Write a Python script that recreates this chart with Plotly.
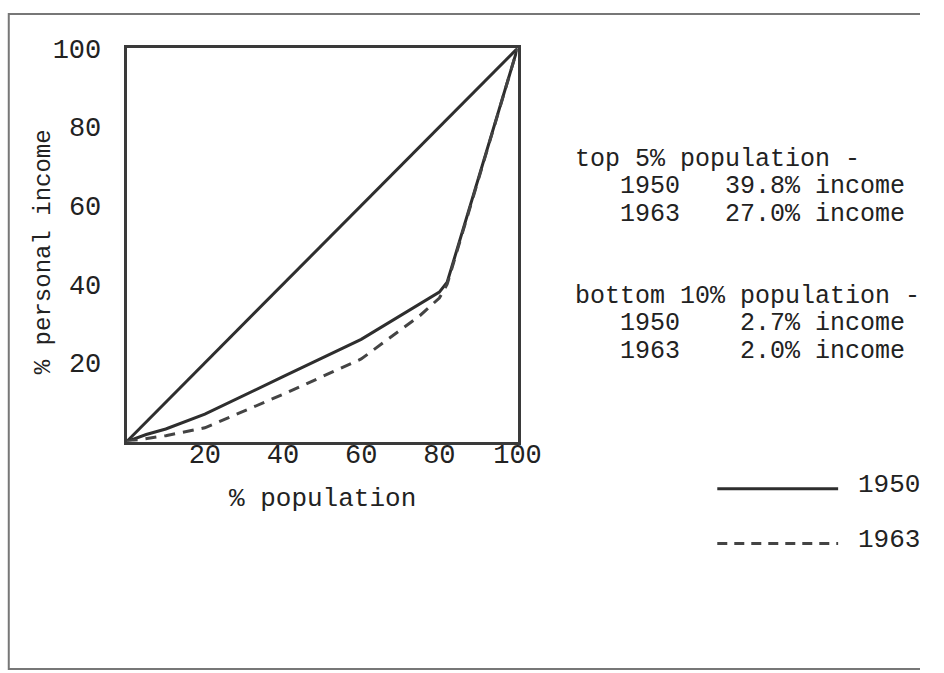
import plotly.graph_objects as go

# ---- data ----
equal_pop = [0, 100]
equal_inc = [0, 100]

pop_1950 = [0, 5, 10, 20, 40, 60, 80, 82, 100]
inc_1950 = [0, 1.8, 3.2, 7, 16.5, 26, 38, 40.5, 100]

pop_1963 = [0, 10, 20, 40, 60, 75, 80, 82, 100]
inc_1963 = [0, 1.5, 3.5, 12, 21, 32, 36.5, 40, 100]

tick_vals = [20, 40, 60, 80, 100]
tick_text = ["20", "40", "60", "80", "100"]

note_lines = [
    "top 5% population -",
    "   1950   39.8% income",
    "   1963   27.0% income",
    "bottom 10% population -",
    "   1950    2.7% income",
    "   1963    2.0% income",
]
legend_years = ["1950", "1963"]

W, H = 944, 673
FONT = "Courier New, Liberation Mono, monospace"
INK = "#2e2e2e"
TXT = "#222222"

def px(x):
    return x / W

def py(y):
    return 1 - y / H

fig = go.Figure()
fig.add_trace(go.Scatter(x=equal_pop, y=equal_inc, mode="lines",
                         line=dict(color=INK, width=3), showlegend=False, hoverinfo="skip"))
fig.add_trace(go.Scatter(x=pop_1950, y=inc_1950, mode="lines", name="1950",
                         line=dict(color=INK, width=3), showlegend=False))
fig.add_trace(go.Scatter(x=pop_1963, y=inc_1963, mode="lines", name="1963",
                         line=dict(color="#444444", width=3, dash="11px,8px"), showlegend=False))

fig.update_layout(
    width=W, height=H,
    margin=dict(l=0, r=0, t=0, b=0, pad=0),
    paper_bgcolor="white", plot_bgcolor="white",
    font=dict(family=FONT, size=27, color=TXT),
    xaxis=dict(domain=[px(130), px(531)], range=[0, 100], showgrid=False, zeroline=False,
               showline=True, mirror=True, linecolor="#3a3a3a", linewidth=3,
               tickmode="array", tickvals=tick_vals, ticktext=tick_text, ticks="",
               ticklabelstandoff=-14, tickfont=dict(family=FONT, size=27, color=TXT)),
    yaxis=dict(domain=[py(437), py(36)], range=[0, 100], showgrid=False, zeroline=False,
               showline=True, mirror=True, linecolor="#3a3a3a", linewidth=3,
               tickmode="array", tickvals=tick_vals, ticktext=tick_text, ticks="",
               ticklabelstandoff=17, tickfont=dict(family=FONT, size=27, color=TXT)),
)

ann = []
# axis titles
ann.append(dict(text="% population", x=px(233), y=py(496), xref="paper", yref="paper",
                xanchor="left", yanchor="middle", showarrow=False,
                font=dict(family=FONT, size=26, color=TXT)))
ann.append(dict(text="% personal income", x=px(44), y=py(243), xref="paper", yref="paper",
                xanchor="center", yanchor="middle", textangle=-90, showarrow=False,
                font=dict(family=FONT, size=24, color=TXT)))

# side notes
note_y = [149, 177, 205, 289, 317, 345]
for t, yy in zip(note_lines, note_y):
    ann.append(dict(text=t.replace(" ", "\u00a0"), x=px(588), y=py(yy), xref="paper", yref="paper",
                    xanchor="left", yanchor="middle", showarrow=False,
                    font=dict(family=FONT, size=25, color=TXT)))

# legend
leg_y = [485, 541]
for t, yy in zip(legend_years, leg_y):
    ann.append(dict(text=t, x=px(878), y=py(yy - 4), xref="paper", yref="paper",
                    xanchor="left", yanchor="middle", showarrow=False,
                    font=dict(family=FONT, size=26, color=TXT)))
fig.update_layout(annotations=ann)

shapes = [
    dict(type="line", xref="paper", yref="paper", x0=px(736), x1=px(860), y0=py(485), y1=py(485),
         line=dict(color=INK, width=3)),
    dict(type="line", xref="paper", yref="paper", x0=px(736), x1=px(860), y0=py(541), y1=py(541),
         line=dict(color="#444", width=3, dash="10px,7px")),
    # scanned page border
    dict(type="path", xref="paper", yref="paper",
         path=f"M {px(W)},{py(1)} L {px(9)},{py(1)} L {px(9)},{py(669)} L {px(W)},{py(669)}",
         line=dict(color="#777", width=2)),
]
fig.update_layout(shapes=shapes)

fig.write_html(
    "out.html",
    config={"displayModeBar": False},
    post_script="document.documentElement.style.margin='0';document.body.style.margin='0';"
                "document.body.style.overflow='hidden';",
)
